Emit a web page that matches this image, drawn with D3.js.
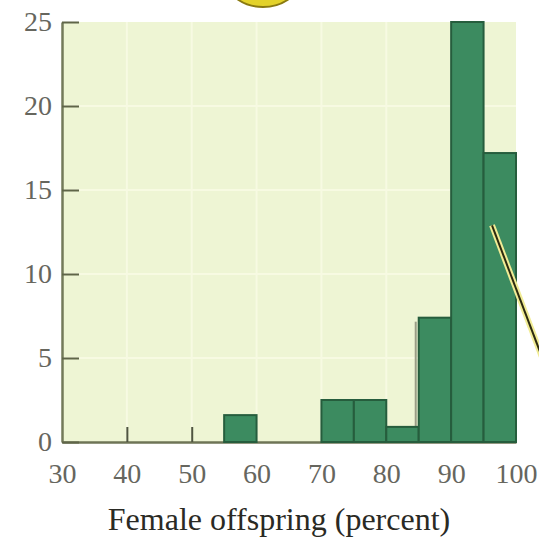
<!DOCTYPE html>
<html>
<head>
<meta charset="utf-8">
<script src="https://cdn.jsdelivr.net/npm/d3@7"></script>
<style>
  body { margin: 0; background: #fff; }
  svg { display: block; }
</style>
</head>
<body>
<svg id="chart" width="539" height="542"></svg>
<script>
// histogram bins (lower edge, percent) and counts
const binStarts = [55, 70, 75, 80, 85, 90, 95];
const counts = [1.6, 2.5, 2.5, 0.9, 7.4, 25, 17.2];
const binWidth = 5;
const xTicks = [30, 40, 50, 60, 70, 80, 90, 100];
const xTicksShown = [40, 50];  // only these tick marks are visible on the baseline
const yTicks = [0, 5, 10, 15, 20, 25];
const xTitle = "Female offspring (percent)";

const svg = d3.select("#chart");

const x = d3.scaleLinear().domain([30, 100]).range([62, 516]);
const y = d3.scaleLinear().domain([0, 25]).range([442, 22]);

// yellow blob of a callout at the top (partly off the page)
svg.append("ellipse")
  .attr("cx", 263).attr("cy", -16)
  .attr("rx", 34).attr("ry", 23)
  .attr("fill", "#e3d22a")
  .attr("stroke", "#8a7a10")
  .attr("stroke-width", 2);

// plot background
svg.append("rect")
  .attr("x", x(30)).attr("y", y(25))
  .attr("width", x(100) - x(30)).attr("height", y(0) - y(25))
  .attr("fill", "#eef5d4");

// faint grid
const grid = svg.append("g").attr("stroke", "#fbfde9").attr("stroke-width", 2).attr("opacity", 0.7);
grid.selectAll(".vg").data(xTicks.slice(1, -1)).join("line")
  .attr("x1", d => x(d)).attr("x2", d => x(d))
  .attr("y1", y(25)).attr("y2", y(0));
grid.selectAll(".hg").data(yTicks.slice(1, -1)).join("line")
  .attr("x1", x(30)).attr("x2", x(100))
  .attr("y1", d => y(d)).attr("y2", d => y(d));

// x axis: ticks point up into the plot
const xAxis = svg.append("g")
  .attr("transform", `translate(0,${y(0)})`)
  .call(d3.axisBottom(x).tickValues(xTicks).tickSize(-15).tickSizeOuter(0).tickPadding(21));
xAxis.select(".domain").attr("stroke", "#6e7456").attr("stroke-width", 2.5);
xAxis.selectAll(".tick line")
  .attr("stroke", "#4f5540").attr("stroke-width", 2)
  .attr("opacity", d => xTicksShown.includes(d) ? 1 : 0);
xAxis.selectAll(".tick text")
  .attr("font-family", "Liberation Serif, DejaVu Serif, serif")
  .attr("font-size", 28)
  .attr("fill", "#66665e");

// shadow edge left of the 85-90 bar
svg.append("line")
  .attr("x1", x(85) - 3).attr("x2", x(85) - 3)
  .attr("y1", y(counts[4]) + 4).attr("y2", y(0))
  .attr("stroke", "#9a9d86").attr("stroke-width", 2);

// bars
svg.append("g")
  .selectAll("rect")
  .data(binStarts.map((b, i) => ({ b, c: counts[i] })))
  .join("rect")
  .attr("x", d => x(d.b))
  .attr("y", d => y(d.c))
  .attr("width", d => x(d.b + binWidth) - x(d.b))
  .attr("height", d => y(0) - y(d.c))
  .attr("fill", "#3c8b60")
  .attr("stroke", "#265d3d")
  .attr("stroke-width", 2);

// y axis: ticks point right into the plot
const yAxis = svg.append("g")
  .attr("transform", `translate(${x(30)},0)`)
  .call(d3.axisLeft(y).tickValues(yTicks).tickSize(-17).tickSizeOuter(0).tickPadding(10));
yAxis.select(".domain").attr("stroke", "#737a5a").attr("stroke-width", 2.5);
yAxis.selectAll(".tick line").attr("stroke", "#5f6548").attr("stroke-width", 2);
yAxis.selectAll(".tick text")
  .attr("font-family", "Liberation Serif, DejaVu Serif, serif")
  .attr("font-size", 28)
  .attr("fill", "#66665e");

// callout pointer line
svg.append("line")
  .attr("x1", x(96.3)).attr("y1", y(12.9))
  .attr("x2", x(107.5)).attr("y2", y(1.5))
  .attr("stroke", "#f1ec95").attr("stroke-width", 6);
svg.append("line")
  .attr("x1", x(96.3)).attr("y1", y(12.9))
  .attr("x2", x(107.5)).attr("y2", y(1.5))
  .attr("stroke", "#2c2a10").attr("stroke-width", 2);

// x title
svg.append("text")
  .attr("x", 279).attr("y", 530)
  .attr("text-anchor", "middle")
  .attr("font-family", "Liberation Serif, DejaVu Serif, serif")
  .attr("font-size", 32)
  .attr("fill", "#2a2a24")
  .text(xTitle);
</script>
</body>
</html>
